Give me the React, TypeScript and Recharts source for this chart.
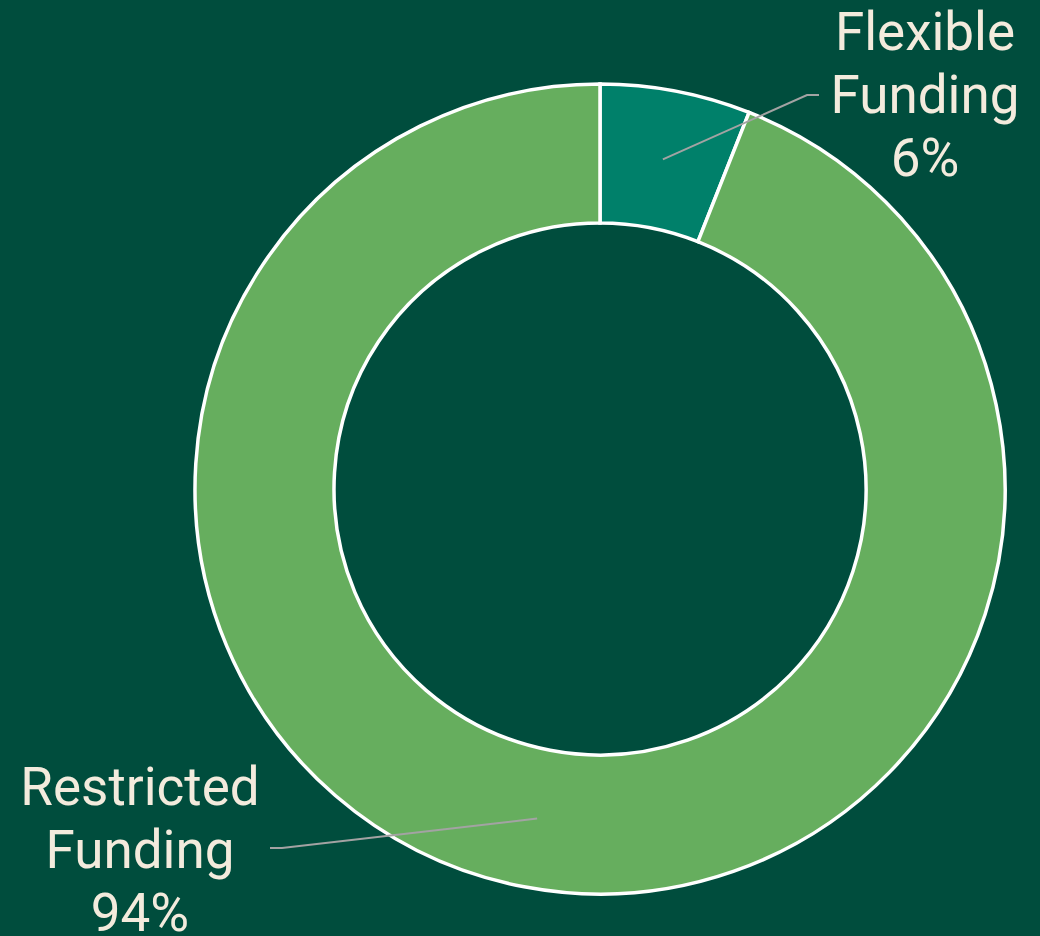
import { PieChart, Pie, Cell } from 'recharts'

const categories = ['Flexible Funding', 'Restricted Funding']
const shares = [6, 94]
const sliceColors = ['#00806A', '#66AE5E']

const data = categories.map((name, i) => ({ name, value: shares[i] }))

const RAD = Math.PI / 180
const TEXT = '#F3EBDD'

// label placement relative to the pie centre, per slice
const labelLayout = [
  { elbow: [207, -394], end: 219, textX: 325, textY: -439 },
  { elbow: [-318, 359], end: -330, textX: -460, textY: 316 },
]

function renderLabel(props: any) {
  const { cx, cy, midAngle, innerRadius, outerRadius, index, name, percent } = props
  const r = (innerRadius + outerRadius) / 2
  const sx = cx + r * Math.cos(-midAngle * RAD)
  const sy = cy + r * Math.sin(-midAngle * RAD)
  const l = labelLayout[index]
  const ex = cx + l.elbow[0]
  const ey = cy + l.elbow[1]
  const words = String(name).split(' ')
  const lines = [...words, `${Math.round(percent * 100)}%`]
  return (
    <g>
      <polyline
        points={`${sx},${sy} ${ex},${ey} ${cx + l.end},${ey}`}
        fill="none"
        stroke="#A3A3A3"
        strokeWidth={2}
      />
      <text
        x={cx + l.textX}
        y={cy + l.textY}
        textAnchor="middle"
        fill={TEXT}
        fontFamily="Roboto"
        fontSize={53}
      >
        {lines.map((t, i) => (
          <tspan key={i} x={cx + l.textX} dy={i === 0 ? 0 : 63}>
            {t}
          </tspan>
        ))}
      </text>
    </g>
  )
}

export default function App() {
  return (
    <div style={{ width: 1040, height: 936, background: '#004D3D' }}>
      <style>{'body{margin:0}'}</style>
      <PieChart width={1040} height={936} margin={{ top: 0, right: 0, bottom: 0, left: 0 }}>
        <Pie
          data={data}
          dataKey="value"
          nameKey="name"
          cx={600}
          cy={489}
          innerRadius={266}
          outerRadius={405}
          startAngle={90}
          endAngle={-270}
          stroke="#FFFFFF"
          strokeWidth={3.5}
          label={renderLabel}
          labelLine={false}
          isAnimationActive={false}
        >
          {data.map((d, i) => (
            <Cell key={d.name} fill={sliceColors[i]} />
          ))}
        </Pie>
      </PieChart>
    </div>
  )
}
